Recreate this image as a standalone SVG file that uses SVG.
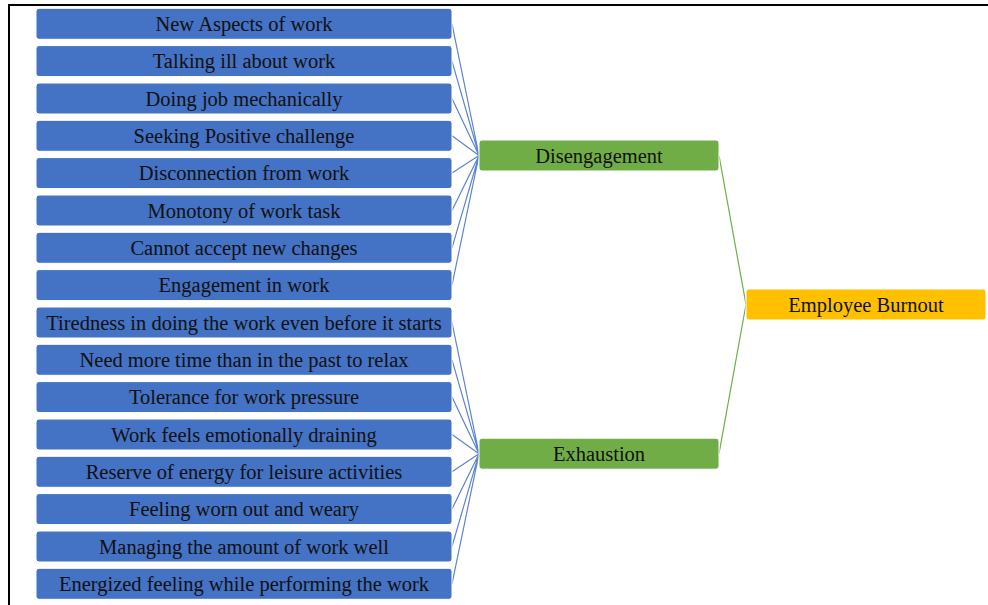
<svg xmlns="http://www.w3.org/2000/svg" width="988" height="605" viewBox="0 0 988 605">
<style>
.b{fill:#4472C4;stroke:#fff;stroke-width:1}
.g{fill:#70AD47;stroke:#fff;stroke-width:1}
.y{fill:#FFC000;stroke:#fff;stroke-width:1}
text{font-family:"Liberation Serif","Times New Roman",serif;font-size:20.5px;fill:#111;text-anchor:middle;dominant-baseline:central}
.cb{stroke:#5A85D0;stroke-width:1.2;fill:none}
.cg{stroke:#70AD47;stroke-width:1.2;fill:none}
</style>
<rect x="0" y="0" width="988" height="605" fill="#fff"/>
<line x1="9" y1="5" x2="988" y2="5" stroke="#000" stroke-width="2"/>
<line x1="9" y1="4" x2="9" y2="605" stroke="#000" stroke-width="2"/>
<g id="connectors">
<path class="cb" d="M452 23.8L479 155.5M452 61.1L479 155.5M452 98.5L479 155.5M452 135.8L479 155.5M452 173.1L479 155.5M452 210.5L479 155.5M452 247.8L479 155.5M452 285.1L479 155.5"/>
<path class="cb" d="M452 322.5L479 453.7M452 359.8L479 453.7M452 397.1L479 453.7M452 434.5L479 453.7M452 471.8L479 453.7M452 509.1L479 453.7M452 546.5L479 453.7M452 583.8L479 453.7"/>
<path class="cg" d="M719 155.5L746 304.5M719 453.7L746 304.5"/>
</g>
<g id="n1"><rect class="b" x="36" y="8.3" width="416" height="31" rx="3"/><text x="244" y="23.8">New Aspects of work</text></g>
<g id="n2"><rect class="b" x="36" y="45.6" width="416" height="31" rx="3"/><text x="244" y="61.1">Talking ill about work</text></g>
<g id="n3"><rect class="b" x="36" y="83" width="416" height="31" rx="3"/><text x="244" y="98.5">Doing job mechanically</text></g>
<g id="n4"><rect class="b" x="36" y="120.3" width="416" height="31" rx="3"/><text x="244" y="135.8">Seeking Positive challenge</text></g>
<g id="n5"><rect class="b" x="36" y="157.6" width="416" height="31" rx="3"/><text x="244" y="173.1">Disconnection from work</text></g>
<g id="n6"><rect class="b" x="36" y="195" width="416" height="31" rx="3"/><text x="244" y="210.5">Monotony of work task</text></g>
<g id="n7"><rect class="b" x="36" y="232.3" width="416" height="31" rx="3"/><text x="244" y="247.8">Cannot accept new changes</text></g>
<g id="n8"><rect class="b" x="36" y="269.6" width="416" height="31" rx="3"/><text x="244" y="285.1">Engagement in work</text></g>
<g id="n9"><rect class="b" x="36" y="307" width="416" height="31" rx="3"/><text x="244" y="322.5">Tiredness in doing the work even before it starts</text></g>
<g id="n10"><rect class="b" x="36" y="344.3" width="416" height="31" rx="3"/><text x="244" y="359.8">Need more time than in the past to relax</text></g>
<g id="n11"><rect class="b" x="36" y="381.6" width="416" height="31" rx="3"/><text x="244" y="397.1">Tolerance for work pressure</text></g>
<g id="n12"><rect class="b" x="36" y="419" width="416" height="31" rx="3"/><text x="244" y="434.5">Work feels emotionally draining</text></g>
<g id="n13"><rect class="b" x="36" y="456.3" width="416" height="31" rx="3"/><text x="244" y="471.8">Reserve of energy for leisure activities</text></g>
<g id="n14"><rect class="b" x="36" y="493.6" width="416" height="31" rx="3"/><text x="244" y="509.1">Feeling worn out and weary</text></g>
<g id="n15"><rect class="b" x="36" y="531" width="416" height="31" rx="3"/><text x="244" y="546.5">Managing the amount of work well</text></g>
<g id="n16"><rect class="b" x="36" y="568.3" width="416" height="31" rx="3"/><text x="244" y="583.8">Energized feeling while performing the work</text></g>
<g id="disengagement"><rect class="g" x="479" y="140" width="240" height="31" rx="3"/><text x="599" y="155.5">Disengagement</text></g>
<g id="exhaustion"><rect class="g" x="479" y="438.2" width="240" height="31" rx="3"/><text x="599" y="453.7">Exhaustion</text></g>
<g id="burnout"><rect class="y" x="746" y="289" width="240" height="31" rx="3"/><text x="866" y="304.5">Employee Burnout</text></g>
</svg>
